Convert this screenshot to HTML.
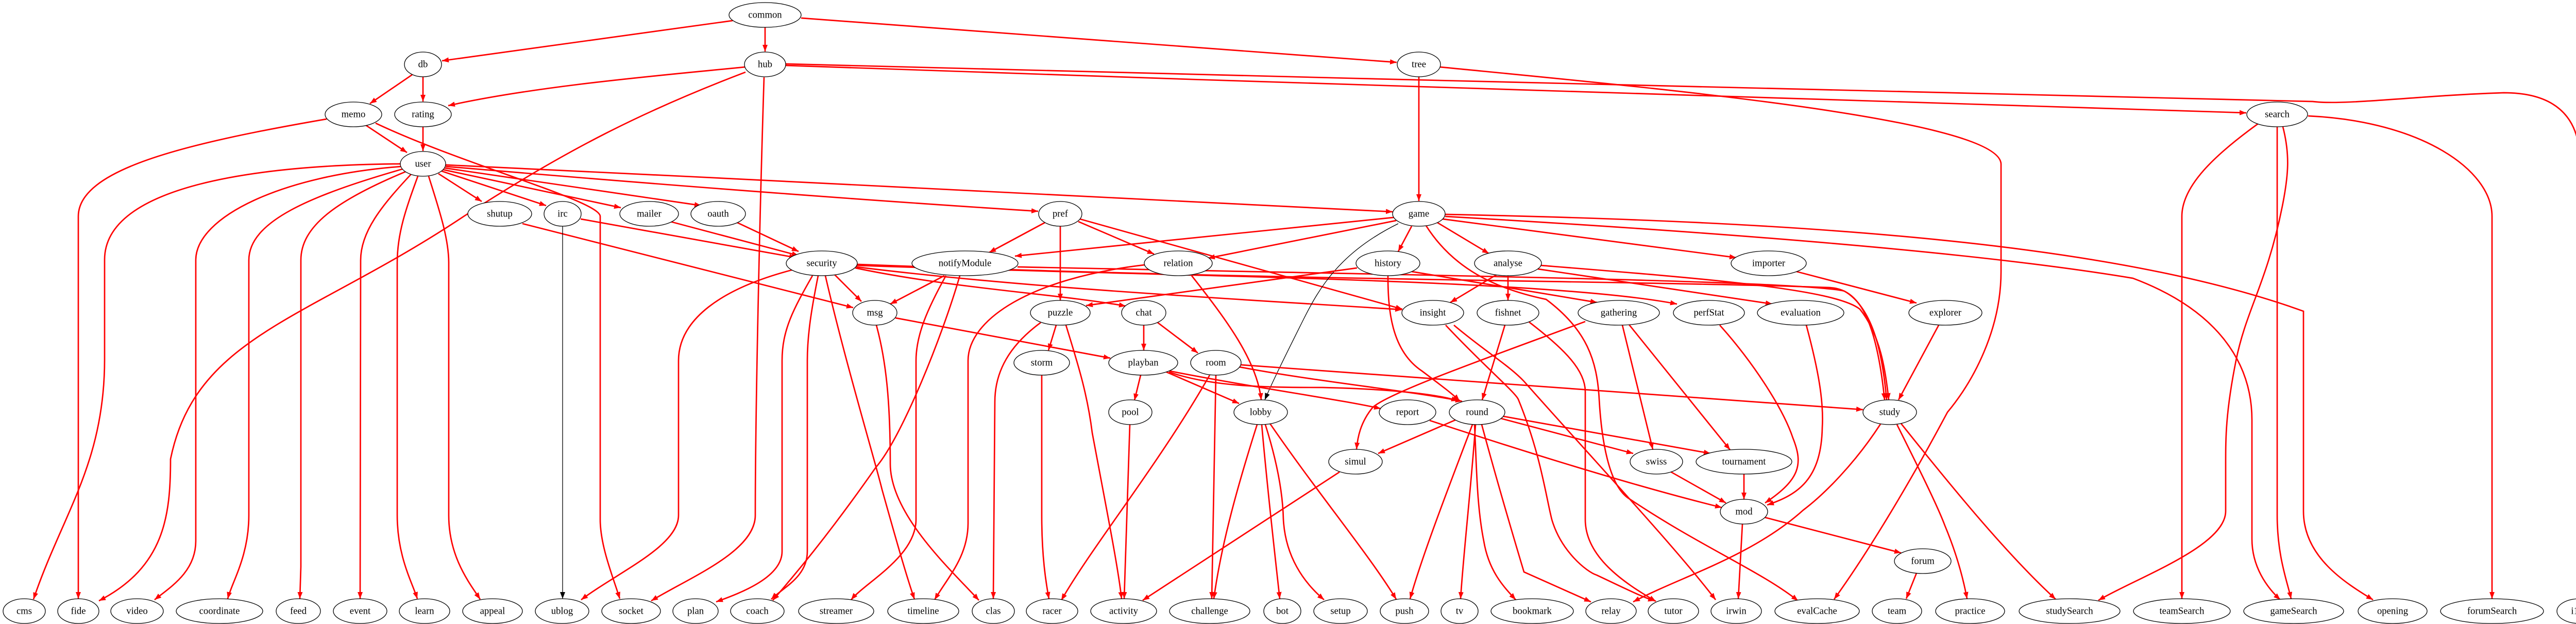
<!DOCTYPE html>
<html><head><meta charset="utf-8"><style>
html,body{margin:0;padding:0;background:#fff;}
svg{display:block;}
text{font-family:"Liberation Serif",serif;font-size:18.67px;text-anchor:middle;dominant-baseline:central;fill:#000;}
.e{fill:none;stroke:#f00;stroke-width:2.7;marker-end:url(#ar);}
.b{fill:none;stroke:#000;stroke-width:1.3;marker-end:url(#ab);}
ellipse{fill:#fff;stroke:#000;stroke-width:1.3;}
</style></head><body>
<svg width="5054" height="1211" viewBox="0 0 5054 1211" xmlns="http://www.w3.org/2000/svg">
<defs>
<marker id="ar" markerUnits="userSpaceOnUse" markerWidth="14" markerHeight="10" refX="13" refY="5" orient="auto"><path d="M0,0 L13,5 L0,10 z" fill="#f00"/></marker>
<marker id="ab" markerUnits="userSpaceOnUse" markerWidth="14" markerHeight="10" refX="13" refY="5" orient="auto"><path d="M0,0 L13,5 L0,10 z" fill="#000"/></marker>
</defs>
<g>
<path class="e" d="M1422,40 L858,118"/>
<path class="e" d="M1485,53 L1485,100"/>
<path class="e" d="M1555,35 L2711,121"/>
<path class="e" d="M800,145 L718,201"/>
<path class="e" d="M821,149 L821,197"/>
<path class="e" d="M1446,130 C1300,145 1050,165 870,205"/>
<path class="e" d="M1447,140 C1250,215 1100,290 900,420 C600,620 380,650 331,891 C331,1000 320,1100 192,1166"/>
<path class="e" d="M1483,150 C1475,400 1466,800 1466,1000 C1466,1070 1340,1120 1264,1166"/>
<path class="e" d="M1525,127 C2500,160 3600,200 4360,219"/>
<path class="e" d="M1525,124 C2500,150 3800,180 4489,197 C4550,205 4700,185 4860,180 C4990,180 5007,260 5007,310 L5007,1161"/>
<path class="e" d="M2795,130 C3200,170 3880,230 3884,318 L3884,527 C3884,640 3830,740 3780,800 C3700,950 3620,1080 3560,1163"/>
<path class="e" d="M2754,149 L2754,390"/>
<path class="e" d="M710,243 L790,296"/>
<path class="e" d="M634,231 C350,280 152,330 152,420 L152,1162"/>
<path class="e" d="M729,239 C900,320 1165,390 1165,420 L1165,1008 C1165,1060 1190,1120 1203,1162"/>
<path class="e" d="M821,246 L821,293"/>
<path class="e" d="M778,318 C500,320 203,360 203,504 L203,698 C203,900 120,1000 65,1163"/>
<path class="e" d="M780,323 C550,340 380,420 380,505 L380,1050 C380,1110 330,1140 300,1164"/>
<path class="e" d="M785,327 C600,380 483,430 483,505 L483,1000 C483,1080 450,1130 442,1162"/>
<path class="e" d="M790,332 C650,390 584,440 584,505 L584,1100 L582,1162"/>
<path class="e" d="M798,338 C740,400 700,450 700,505 L699,1162"/>
<path class="e" d="M811,342 C790,400 771,450 771,510 L771,1000 C771,1080 800,1130 810,1162"/>
<path class="e" d="M832,342 C850,400 871,460 871,510 L871,1000 C871,1080 910,1130 932,1163"/>
<path class="e" d="M851,337 L935,391"/>
<path class="e" d="M857,332 L1060,399"/>
<path class="e" d="M859,329 L1205,403"/>
<path class="e" d="M863,326 L1361,399"/>
<path class="e" d="M865,323 C1300,360 1700,390 2015,410"/>
<path class="e" d="M865,320 C1500,350 2200,385 2703,411"/>
<path class="e" d="M1014,434 L1656,597"/>
<path class="b" d="M1092,439 L1092,1162"/>
<path class="e" d="M1127,425 L1545,500"/>
<path class="e" d="M1301,430 L1550,496"/>
<path class="e" d="M1431,432 L1550,488"/>
<path class="e" d="M1620,533 L1672,585"/>
<path class="e" d="M1537,524 C1400,560 1317,620 1317,700 L1317,1000 C1317,1060 1200,1110 1128,1164"/>
<path class="e" d="M1577,535 C1540,600 1518,640 1518,700 L1518,1070 C1518,1120 1440,1150 1390,1168"/>
<path class="e" d="M1588,535 C1575,600 1567,650 1567,700 L1567,1070 C1567,1120 1520,1140 1497,1163"/>
<path class="e" d="M1602,535 C1640,700 1700,900 1712,950 C1740,1050 1760,1120 1775,1163"/>
<path class="e" d="M1701,631 C1720,700 1728,780 1728,900 C1728,1000 1850,1110 1900,1165"/>
<path class="e" d="M1660,520 C1850,560 2050,570 2185,594"/>
<path class="e" d="M1662,518 C2000,560 2400,580 2721,601"/>
<path class="e" d="M1662,515 C2200,535 3000,540 3255,590"/>
<path class="e" d="M1664,513 C2500,545 3200,545 3550,558 C3600,560 3640,600 3658,776"/>
<path class="e" d="M1975,518 C2800,535 3500,545 3580,565 C3640,600 3655,700 3662,776"/>
<path class="e" d="M1833,535 L1728,590"/>
<path class="e" d="M1863,535 C1830,650 1750,850 1700,907 C1600,1050 1530,1130 1500,1165"/>
<path class="e" d="M1836,535 C1800,600 1778,650 1778,700 L1778,1008 C1778,1080 1680,1130 1652,1164"/>
<path class="e" d="M2222,514 C2000,540 1879,620 1879,700 L1879,1015 C1879,1080 1840,1120 1814,1164"/>
<path class="e" d="M2313,535 C2380,620 2440,700 2448,776"/>
<path class="e" d="M2028,432 L1920,490"/>
<path class="e" d="M2058,439 L2058,583"/>
<path class="e" d="M2093,430 L2240,493"/>
<path class="e" d="M2096,425 L2722,600"/>
<path class="e" d="M2705,422 L1970,497"/>
<path class="e" d="M2710,428 L2345,501"/>
<path class="e" d="M2740,439 L2714,488"/>
<path class="e" d="M2790,432 L2890,492"/>
<path class="e" d="M2800,425 L3370,500"/>
<path class="b" d="M2714,434 C2600,490 2560,560 2530,620 C2500,680 2470,740 2455,776"/>
<path class="e" d="M2768,438 C2820,520 2900,560 3001,581 C3080,640 3100,700 3104,775 C3110,880 3130,950 3164,969 C3300,1060 3420,1110 3490,1166"/>
<path class="e" d="M2805,420 C3500,460 3900,500 4140,540 C4300,600 4371,700 4371,815 L4371,1046 C4371,1100 4400,1140 4426,1164"/>
<path class="e" d="M2805,416 C3500,430 4100,470 4471,604 L4471,992 C4471,1080 4550,1130 4606,1164"/>
<path class="e" d="M2694,535 C2694,600 2700,680 2760,720 C2800,750 2820,765 2833,778"/>
<path class="e" d="M2634,520 L2108,593"/>
<path class="e" d="M2740,527 L3100,587"/>
<path class="e" d="M2905,533 L2815,587"/>
<path class="e" d="M2927,535 L2927,583"/>
<path class="e" d="M2985,522 L3440,590"/>
<path class="e" d="M2990,515 C3300,540 3560,560 3610,600 C3650,650 3660,720 3666,776"/>
<path class="e" d="M2806,631 C2880,710 2940,760 2947,775 C2990,880 3000,960 3012,1008 C3030,1070 3080,1110 3099,1116 C3150,1140 3190,1160 3212,1166"/>
<path class="e" d="M2822,631 C2880,680 2930,710 2958,740 C3100,900 3250,1060 3330,1164"/>
<path class="e" d="M2921,631 L2877,776"/>
<path class="e" d="M2968,625 C3040,680 3077,720 3077,760 L3077,1008 C3077,1080 3150,1130 3214,1167"/>
<path class="e" d="M3077,624 C2900,690 2700,760 2665,790 C2640,820 2635,850 2633,872"/>
<path class="e" d="M3149,631 L3208,872"/>
<path class="e" d="M3162,630 L3358,873"/>
<path class="e" d="M3338,631 C3400,700 3460,790 3480,850 C3500,900 3495,930 3426,976"/>
<path class="e" d="M3506,631 C3530,720 3540,780 3537,830 C3535,930 3490,960 3430,980"/>
<path class="e" d="M3487,527 L3720,588"/>
<path class="e" d="M3763,631 L3685,776"/>
<path class="e" d="M2050,631 L2035,680"/>
<path class="e" d="M2069,631 C2090,700 2110,760 2120,840 C2150,1000 2170,1100 2177,1162"/>
<path class="e" d="M2020,626 C1960,670 1931,720 1931,780 L1928,1162"/>
<path class="e" d="M2220,631 L2220,680"/>
<path class="e" d="M2247,626 L2325,685"/>
<path class="e" d="M2022,728 L2022,1000 C2022,1080 2030,1130 2036,1162"/>
<path class="e" d="M2214,728 L2202,777"/>
<path class="e" d="M2264,722 L2405,783"/>
<path class="e" d="M2270,720 C2450,755 2600,775 2680,793"/>
<path class="e" d="M2269,722 C2350,750 2450,752 2567,752 C2700,755 2790,765 2830,778"/>
<path class="e" d="M2405,712 C2550,740 2750,760 2838,779"/>
<path class="e" d="M2408,708 C2900,740 3300,770 3616,795"/>
<path class="e" d="M2348,728 C2250,900 2120,1060 2060,1165"/>
<path class="e" d="M2360,728 L2352,1162"/>
<path class="e" d="M2193,824 L2182,1162"/>
<path class="e" d="M2440,824 C2400,950 2370,1060 2356,1162"/>
<path class="e" d="M2449,824 C2460,950 2475,1080 2484,1162"/>
<path class="e" d="M2456,824 C2480,900 2490,960 2491,1008 C2495,1080 2530,1130 2570,1164"/>
<path class="e" d="M2465,822 C2560,960 2660,1080 2710,1163"/>
<path class="e" d="M2775,816 C3000,890 3200,950 3342,985"/>
<path class="e" d="M2825,815 L2675,880"/>
<path class="e" d="M2913,812 L3170,880"/>
<path class="e" d="M2918,808 L3320,880"/>
<path class="e" d="M2858,824 C2810,950 2760,1080 2737,1162"/>
<path class="e" d="M2864,824 C2855,950 2840,1080 2835,1162"/>
<path class="e" d="M2862,824 C2866,900 2866,980 2880,1050 C2890,1110 2920,1140 2942,1164"/>
<path class="e" d="M2876,824 C2910,950 2940,1050 2958,1110 L3088,1168"/>
<path class="e" d="M2600,916 L2218,1165"/>
<path class="e" d="M3240,914 L3350,976"/>
<path class="e" d="M3385,920 L3385,969"/>
<path class="e" d="M3425,1004 L3690,1073"/>
<path class="e" d="M3382,1017 L3374,1162"/>
<path class="e" d="M3720,1112 L3700,1162"/>
<path class="e" d="M3650,823 C3600,900 3540,960 3500,990 C3400,1080 3260,1120 3170,1168"/>
<path class="e" d="M3682,824 C3720,900 3760,980 3775,1020 C3800,1080 3812,1130 3818,1162"/>
<path class="e" d="M3690,822 C3800,960 3900,1080 3990,1163"/>
<path class="e" d="M4431,246 C4445,300 4442,340 4430,400 C4400,550 4360,600 4340,700 C4320,800 4320,850 4320,900 L4320,992 C4320,1060 4150,1120 4073,1165"/>
<path class="e" d="M4383,240 C4300,300 4235,360 4235,420 L4235,1162"/>
<path class="e" d="M4420,246 L4420,1000 C4420,1080 4440,1130 4447,1162"/>
<path class="e" d="M4480,225 C4700,235 4837,330 4837,420 L4837,1162"/>
<path class="e" d="M1738,617 L2155,695"/>
</g>
<g>
<ellipse cx="1485" cy="29" rx="70" ry="24"/><text x="1485" y="29">common</text>
<ellipse cx="821" cy="125" rx="36" ry="24"/><text x="821" y="125">db</text>
<ellipse cx="1485" cy="125" rx="40" ry="24"/><text x="1485" y="125">hub</text>
<ellipse cx="2754" cy="125" rx="42" ry="24"/><text x="2754" y="125">tree</text>
<ellipse cx="686" cy="222" rx="55" ry="24"/><text x="686" y="222">memo</text>
<ellipse cx="821" cy="222" rx="55" ry="24"/><text x="821" y="222">rating</text>
<ellipse cx="4420" cy="222" rx="59" ry="24"/><text x="4420" y="222">search</text>
<ellipse cx="821" cy="318" rx="44" ry="24"/><text x="821" y="318">user</text>
<ellipse cx="970" cy="415" rx="62" ry="24"/><text x="970" y="415">shutup</text>
<ellipse cx="1092" cy="415" rx="36" ry="24"/><text x="1092" y="415">irc</text>
<ellipse cx="1260" cy="415" rx="57" ry="24"/><text x="1260" y="415">mailer</text>
<ellipse cx="1394" cy="415" rx="53" ry="24"/><text x="1394" y="415">oauth</text>
<ellipse cx="2058" cy="415" rx="42" ry="24"/><text x="2058" y="415">pref</text>
<ellipse cx="2754" cy="415" rx="51" ry="24"/><text x="2754" y="415">game</text>
<ellipse cx="1595" cy="511" rx="69" ry="24"/><text x="1595" y="511">security</text>
<ellipse cx="1873" cy="511" rx="103" ry="24"/><text x="1873" y="511">notifyModule</text>
<ellipse cx="2287" cy="511" rx="66" ry="24"/><text x="2287" y="511">relation</text>
<ellipse cx="2694" cy="511" rx="62" ry="24"/><text x="2694" y="511">history</text>
<ellipse cx="2927" cy="511" rx="65" ry="24"/><text x="2927" y="511">analyse</text>
<ellipse cx="3433" cy="511" rx="73" ry="24"/><text x="3433" y="511">importer</text>
<ellipse cx="1698" cy="607" rx="43" ry="24"/><text x="1698" y="607">msg</text>
<ellipse cx="2058" cy="607" rx="58" ry="24"/><text x="2058" y="607">puzzle</text>
<ellipse cx="2220" cy="607" rx="43" ry="24"/><text x="2220" y="607">chat</text>
<ellipse cx="2781" cy="607" rx="60" ry="24"/><text x="2781" y="607">insight</text>
<ellipse cx="2927" cy="607" rx="60" ry="24"/><text x="2927" y="607">fishnet</text>
<ellipse cx="3142" cy="607" rx="79" ry="24"/><text x="3142" y="607">gathering</text>
<ellipse cx="3317" cy="607" rx="69" ry="24"/><text x="3317" y="607">perfStat</text>
<ellipse cx="3495" cy="607" rx="84" ry="24"/><text x="3495" y="607">evaluation</text>
<ellipse cx="3776" cy="607" rx="71" ry="24"/><text x="3776" y="607">explorer</text>
<ellipse cx="2022" cy="704" rx="54" ry="24"/><text x="2022" y="704">storm</text>
<ellipse cx="2219" cy="704" rx="67" ry="24"/><text x="2219" y="704">playban</text>
<ellipse cx="2360" cy="704" rx="49" ry="24"/><text x="2360" y="704">room</text>
<ellipse cx="2194" cy="800" rx="42" ry="24"/><text x="2194" y="800">pool</text>
<ellipse cx="2447" cy="800" rx="52" ry="24"/><text x="2447" y="800">lobby</text>
<ellipse cx="2732" cy="800" rx="55" ry="24"/><text x="2732" y="800">report</text>
<ellipse cx="2867" cy="800" rx="54" ry="24"/><text x="2867" y="800">round</text>
<ellipse cx="3668" cy="800" rx="52" ry="24"/><text x="3668" y="800">study</text>
<ellipse cx="2631" cy="896" rx="52" ry="24"/><text x="2631" y="896">simul</text>
<ellipse cx="3215" cy="896" rx="51" ry="24"/><text x="3215" y="896">swiss</text>
<ellipse cx="3385" cy="896" rx="93" ry="24"/><text x="3385" y="896">tournament</text>
<ellipse cx="3385" cy="993" rx="46" ry="24"/><text x="3385" y="993">mod</text>
<ellipse cx="3732" cy="1089" rx="55" ry="24"/><text x="3732" y="1089">forum</text>
<ellipse cx="47" cy="1186" rx="41" ry="24"/><text x="47" y="1186">cms</text>
<ellipse cx="152" cy="1186" rx="40" ry="24"/><text x="152" y="1186">fide</text>
<ellipse cx="266" cy="1186" rx="51" ry="24"/><text x="266" y="1186">video</text>
<ellipse cx="426" cy="1186" rx="84" ry="24"/><text x="426" y="1186">coordinate</text>
<ellipse cx="579" cy="1186" rx="43" ry="24"/><text x="579" y="1186">feed</text>
<ellipse cx="699" cy="1186" rx="52" ry="24"/><text x="699" y="1186">event</text>
<ellipse cx="824" cy="1186" rx="49" ry="24"/><text x="824" y="1186">learn</text>
<ellipse cx="956" cy="1186" rx="58" ry="24"/><text x="956" y="1186">appeal</text>
<ellipse cx="1091" cy="1186" rx="52" ry="24"/><text x="1091" y="1186">ublog</text>
<ellipse cx="1225" cy="1186" rx="57" ry="24"/><text x="1225" y="1186">socket</text>
<ellipse cx="1350" cy="1186" rx="44" ry="24"/><text x="1350" y="1186">plan</text>
<ellipse cx="1470" cy="1186" rx="52" ry="24"/><text x="1470" y="1186">coach</text>
<ellipse cx="1623" cy="1186" rx="73" ry="24"/><text x="1623" y="1186">streamer</text>
<ellipse cx="1792" cy="1186" rx="69" ry="24"/><text x="1792" y="1186">timeline</text>
<ellipse cx="1928" cy="1186" rx="41" ry="24"/><text x="1928" y="1186">clas</text>
<ellipse cx="2042" cy="1186" rx="50" ry="24"/><text x="2042" y="1186">racer</text>
<ellipse cx="2181" cy="1186" rx="64" ry="24"/><text x="2181" y="1186">activity</text>
<ellipse cx="2348" cy="1186" rx="78" ry="24"/><text x="2348" y="1186">challenge</text>
<ellipse cx="2489" cy="1186" rx="36" ry="24"/><text x="2489" y="1186">bot</text>
<ellipse cx="2602" cy="1186" rx="52" ry="24"/><text x="2602" y="1186">setup</text>
<ellipse cx="2726" cy="1186" rx="47" ry="24"/><text x="2726" y="1186">push</text>
<ellipse cx="2833" cy="1186" rx="36" ry="24"/><text x="2833" y="1186">tv</text>
<ellipse cx="2974" cy="1186" rx="80" ry="24"/><text x="2974" y="1186">bookmark</text>
<ellipse cx="3127" cy="1186" rx="49" ry="24"/><text x="3127" y="1186">relay</text>
<ellipse cx="3248" cy="1186" rx="49" ry="24"/><text x="3248" y="1186">tutor</text>
<ellipse cx="3370" cy="1186" rx="49" ry="24"/><text x="3370" y="1186">irwin</text>
<ellipse cx="3527" cy="1186" rx="82" ry="24"/><text x="3527" y="1186">evalCache</text>
<ellipse cx="3682" cy="1186" rx="48" ry="24"/><text x="3682" y="1186">team</text>
<ellipse cx="3824" cy="1186" rx="67" ry="24"/><text x="3824" y="1186">practice</text>
<ellipse cx="4017" cy="1186" rx="98" ry="24"/><text x="4017" y="1186">studySearch</text>
<ellipse cx="4235" cy="1186" rx="94" ry="24"/><text x="4235" y="1186">teamSearch</text>
<ellipse cx="4452" cy="1186" rx="97" ry="24"/><text x="4452" y="1186">gameSearch</text>
<ellipse cx="4644" cy="1186" rx="67" ry="24"/><text x="4644" y="1186">opening</text>
<ellipse cx="4837" cy="1186" rx="100" ry="24"/><text x="4837" y="1186">forumSearch</text>
<ellipse cx="5007" cy="1186" rx="44" ry="24"/><text x="5007" y="1186">i18n</text>
</g>
</svg>
</body></html>
